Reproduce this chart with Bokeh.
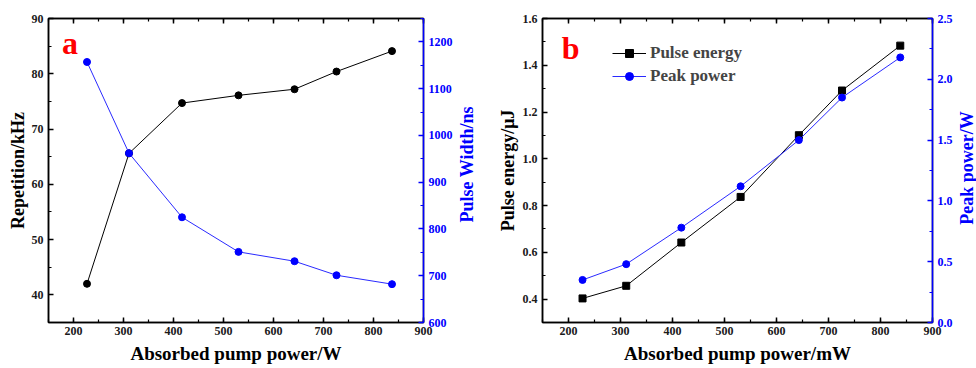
import math
from bokeh.plotting import figure
from bokeh.layouts import row
from bokeh.models import (Range1d, LinearAxis, SingleIntervalTicker, NumeralTickFormatter, Label, Legend,
                          LegendItem, CustomJSTickFormatter)
from bokeh.embed import file_html
from bokeh.resources import INLINE

# ---- data ----
pump_a = [227, 311, 417, 530, 642, 726, 837]
repetition_khz = [42.0, 65.6, 74.7, 76.1, 77.2, 80.4, 84.1]
pulse_width_ns = [1157, 962, 825, 751, 731, 701, 682]

pump_b = [227, 311, 417, 531, 643, 726, 838]
pulse_energy_uj = [0.403, 0.457, 0.642, 0.837, 1.101, 1.292, 1.484]
peak_power_w = [0.35, 0.48, 0.78, 1.12, 1.50, 1.85, 2.18]

FONT = "Liberation Serif"
BLUE = "#0000FF"


def style_axis(ax, color="black", fmt=None, label_size="18px"):
    ax.axis_line_color = color
    ax.axis_line_width = 1.5
    ax.major_tick_line_color = color
    ax.minor_tick_line_color = color
    ax.major_tick_line_width = 1.5
    ax.minor_tick_line_width = 1.2
    ax.major_tick_in = 5
    ax.major_tick_out = 0
    ax.minor_tick_in = 3
    ax.minor_tick_out = 0
    ax.major_label_text_font = FONT
    ax.major_label_text_font_style = "bold"
    ax.major_label_text_font_size = "12px"
    ax.major_label_text_color = "#1a1a1a" if color == "black" else color
    ax.axis_label_text_font = FONT
    ax.axis_label_text_font_style = "bold"
    ax.axis_label_text_font_size = label_size
    ax.axis_label_text_color = "black" if color == "black" else color
    if fmt:
        ax.formatter = NumeralTickFormatter(format=fmt)


def make_panel(width, xr, yr, yr2, xint, yint, y2int, borders, xlabel, ylabel,
               yfmt=None, y2fmt=None, ylabel_standoff=1):
    p = figure(width=width, height=368, x_range=Range1d(*xr), y_range=Range1d(*yr),
               output_backend="svg", toolbar_location=None,
               min_border_left=borders[0], min_border_right=borders[1],
               min_border_top=borders[2], min_border_bottom=borders[3])
    p.extra_y_ranges = {"r": Range1d(*yr2)}
    p.xgrid.visible = False
    p.ygrid.visible = False
    p.outline_line_color = "black"
    p.outline_line_width = 1.5
    p.background_fill_color = "white"
    p.border_fill_color = "white"

    xa = p.xaxis[0]
    xa.ticker = SingleIntervalTicker(interval=xint, num_minor_ticks=2)
    style_axis(xa, label_size="19px")
    xa.axis_label = xlabel
    xa.major_label_standoff = 4
    xa.axis_label_standoff = 5

    ya = p.yaxis[0]
    ya.ticker = SingleIntervalTicker(interval=yint, num_minor_ticks=2)
    style_axis(ya, fmt=yfmt)
    ya.axis_label = ylabel
    ya.major_label_standoff = 5
    ya.axis_label_standoff = ylabel_standoff

    ra = LinearAxis(y_range_name="r", ticker=SingleIntervalTicker(interval=y2int, num_minor_ticks=2))
    style_axis(ra, color=BLUE, fmt=y2fmt)
    ra.major_label_standoff = 5
    p.add_layout(ra, "right")

    ta = LinearAxis(ticker=SingleIntervalTicker(interval=xint, num_minor_ticks=2))
    style_axis(ta)
    ta.formatter = CustomJSTickFormatter(code="return ''")
    ta.major_label_standoff = 0
    ta.axis_label = None
    p.add_layout(ta, "above")
    return p


def label_strip(width, text, x, y):
    f = figure(width=width, height=368, x_range=Range1d(0, width), y_range=Range1d(0, 368),
               output_backend="svg", toolbar_location=None, x_axis_type=None, y_axis_type=None,
               min_border=0, min_border_left=0, min_border_right=0, min_border_top=0, min_border_bottom=0)
    f.xgrid.visible = False
    f.ygrid.visible = False
    f.outline_line_color = None
    f.background_fill_color = "white"
    f.border_fill_color = "white"
    f.add_layout(Label(x=x, y=y, text=text, angle=math.pi / 2,
                       text_font=FONT, text_font_style="bold", text_font_size="18px",
                       text_color=BLUE, text_align="center", text_baseline="middle"))
    return f


# ---- panel a ----
pa = make_panel(456, (150, 900), (35, 90), (600, 1250), 100, 10, 100,
                (48, 33, 17, 43),
                "Absorbed pump power/W", "Repetition/kHz", ylabel_standoff=1)
pa.line(pump_a, repetition_khz, line_color="black", line_width=1)
pa.scatter(pump_a, repetition_khz, marker="circle", size=7, color="black")
pa.line(pump_a, pulse_width_ns, line_color="#2a2aff", line_width=1, y_range_name="r")
pa.scatter(pump_a, pulse_width_ns, marker="circle", size=7, color=BLUE, y_range_name="r")
pa.add_layout(Label(x=177, y=85.6, text="a", text_color="red", text_font=FONT,
                    text_font_style="bold", text_font_size="32px", text_baseline="alphabetic"))
sa = label_strip(24, "Pulse Width/ns", 10, 191.5)

# ---- panel b ----
pb = make_panel(476, (150, 900), (0.3, 1.6), (0.0, 2.5), 100, 0.2, 0.5,
                (62, 24, 18, 46),
                "Absorbed pump power/mW", "Pulse energy/\u03bcJ",
                yfmt="0.0", y2fmt="0.0", ylabel_standoff=2)
l1 = pb.line(pump_b, pulse_energy_uj, line_color="black", line_width=1)
s1 = pb.scatter(pump_b, pulse_energy_uj, marker="square", size=7, color="black")
l2 = pb.line(pump_b, peak_power_w, line_color="#2a2aff", line_width=1, y_range_name="r")
s2 = pb.scatter(pump_b, peak_power_w, marker="circle", size=7, color=BLUE, y_range_name="r")
pb.add_layout(Label(x=187, y=1.472, text="b", text_color="red", text_font=FONT,
                    text_font_style="bold", text_font_size="32px", text_baseline="alphabetic"))
sb = label_strip(20, "Peak power/W", 10.5, 187)

legend = Legend(items=[LegendItem(label="Pulse energy", renderers=[l1, s1]),
                       LegendItem(label="Peak power", renderers=[l2, s2])],
                location=(70, 236))
legend.border_line_color = None
legend.background_fill_alpha = 0
legend.label_text_font = FONT
legend.label_text_font_style = "bold"
legend.label_text_font_size = "17px"
legend.glyph_width = 34
legend.glyph_height = 20
legend.label_height = 20
legend.spacing = 3
legend.padding = 2
legend.label_standoff = 4
pb.add_layout(legend, "center")

out = row(pa, sa, pb, sb, spacing=0)
open("out.html", "w").write(file_html(out, INLINE))
